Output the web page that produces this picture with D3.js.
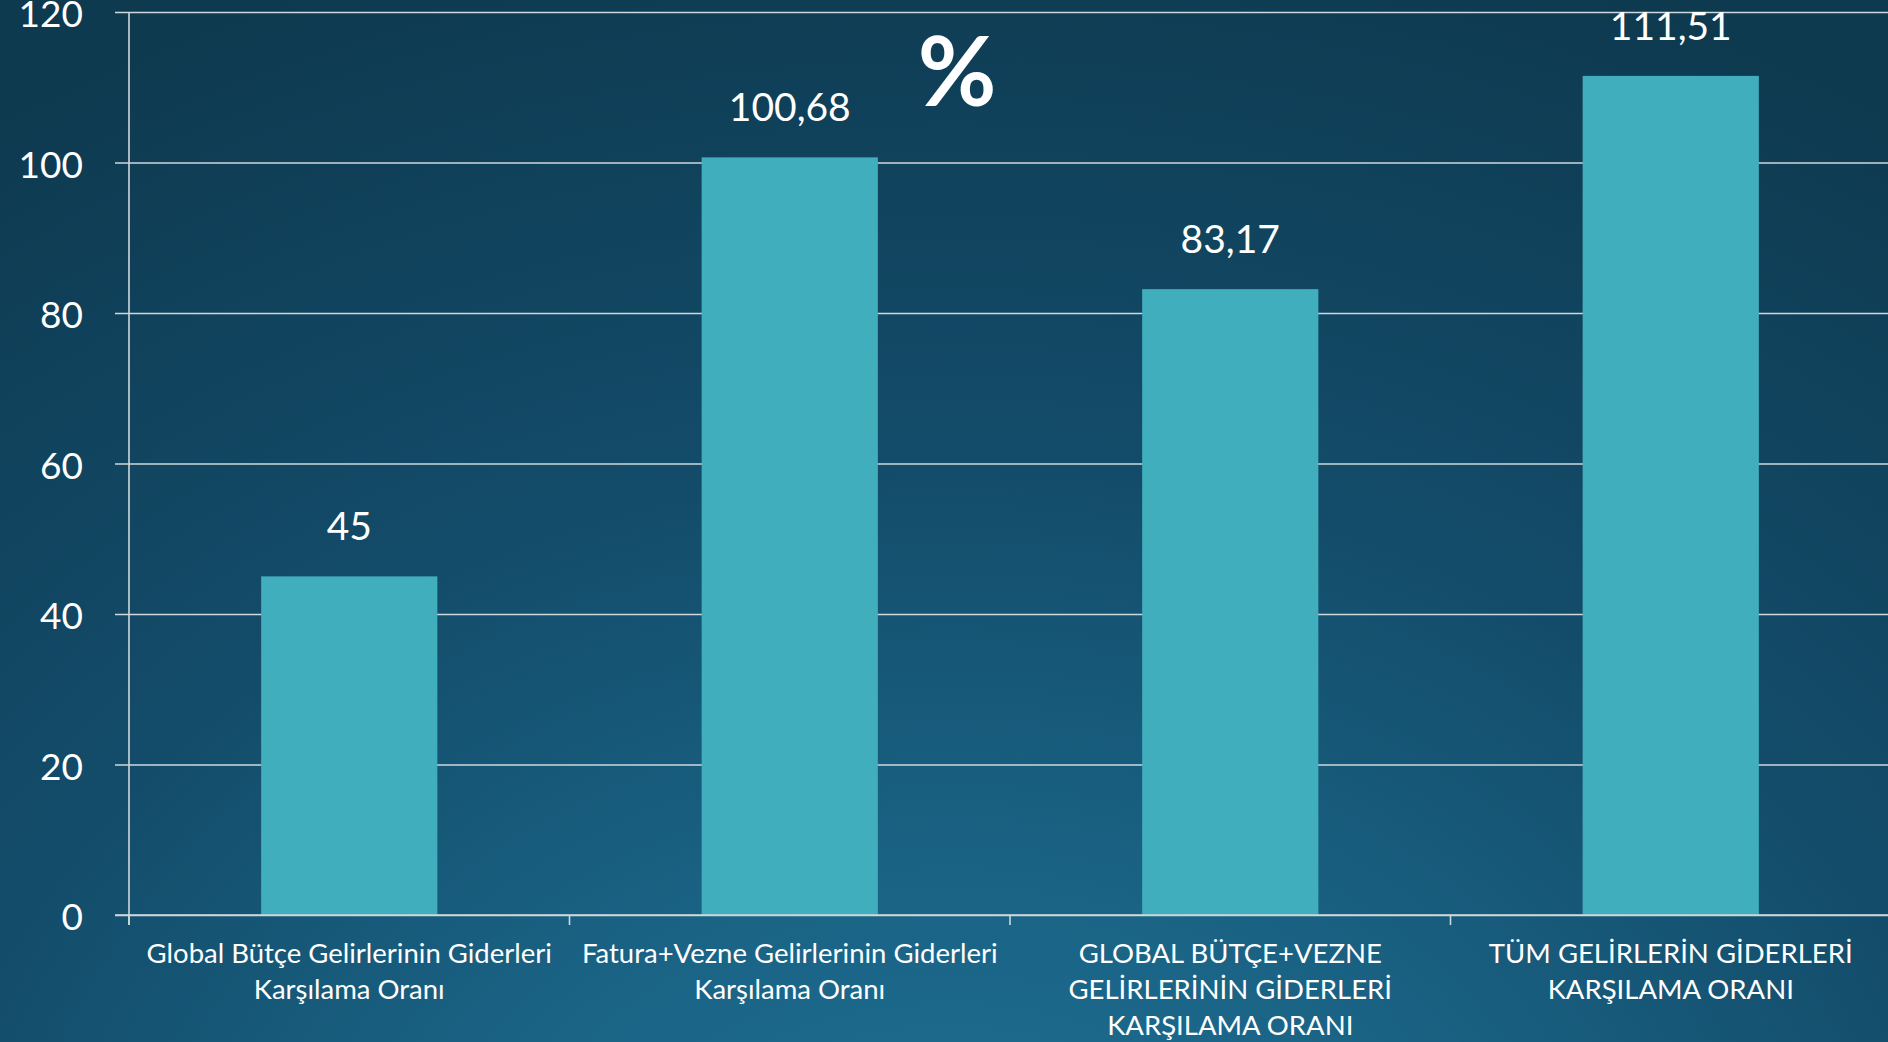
<!DOCTYPE html>
<html>
<head>
<meta charset="utf-8">
<script src="https://cdn.jsdelivr.net/npm/d3@7"></script>
<style>
  html, body { margin: 0; padding: 0; overflow: hidden; background: #0f3d55; }
  svg { display: block; }
  text { font-family: Lato, "Open Sans", sans-serif; fill: #ffffff; }
</style>
</head>
<body>
<svg id="chart"></svg>
<script>
// --- DATA ---
const categories = [
    ["Global Bütçe Gelirlerinin Giderleri", "Karşılama Oranı"],
    ["Fatura+Vezne Gelirlerinin Giderleri", "Karşılama Oranı"],
    ["GLOBAL BÜTÇE+VEZNE", "GELİRLERİNİN GİDERLERİ", "KARŞILAMA ORANI"],
    ["TÜM GELİRLERİN GİDERLERİ", "KARŞILAMA ORANI"]
];
const values = [45, 100.68, 83.17, 111.51];
const valueLabels = ["45", "100,68", "83,17", "111,51"];
const yTicks = [0, 20, 40, 60, 80, 100, 120];

// --- SETUP ---
const W = 1888, H = 1042;
const svg = d3.select("#chart").attr("width", W).attr("height", H);

// background gradient
const defs = svg.append("defs");
const grad = defs.append("radialGradient")
    .attr("id", "bg")
    .attr("gradientUnits", "userSpaceOnUse")
    .attr("cx", 950).attr("cy", 1300).attr("r", 1400)
    .attr("gradientTransform", "translate(950,1300) scale(1.25,1) translate(-950,-1300)");
grad.append("stop").attr("offset", "0").attr("stop-color", "#1f7396");
grad.append("stop").attr("offset", "0.3").attr("stop-color", "#1a6385");
grad.append("stop").attr("offset", "0.6").attr("stop-color", "#134c6a");
grad.append("stop").attr("offset", "1").attr("stop-color", "#0e3a50");
svg.append("rect").attr("width", W).attr("height", H).attr("fill", "url(#bg)");

const x0 = 129, x1 = 1891, yTop = 12, yBase = 915;

const x = d3.scaleBand()
    .domain(d3.range(categories.length))
    .range([x0, x1])
    .paddingInner(0.6)
    .paddingOuter(0.3);

const y = d3.scaleLinear().domain([0, 120]).range([yBase, yTop]);

// gridlines + y labels
const yAxis = d3.axisLeft(y)
    .tickValues(yTicks)
    .tickSize(-(W - x0 + 20))
    .tickPadding(32)
    .tickFormat(d3.format("d"));

const yg = svg.append("g")
    .attr("transform", `translate(${x0 - 14},0)`)
    .call(yAxis);
yg.select(".domain").remove();
yg.selectAll(".tick line").attr("stroke", "#cfd8dc").attr("stroke-width", 1.6);
yg.selectAll(".tick text")
    .attr("font-size", 37)
    .attr("fill", "#ffffff")
    .attr("dy", "0.4em");

// y axis line
svg.append("line")
    .attr("x1", x0).attr("x2", x0)
    .attr("y1", yTop).attr("y2", yBase + 10)
    .attr("stroke", "#cfd8dc").attr("stroke-width", 1.6);

// bars
svg.append("g").selectAll("rect")
    .data(values)
    .join("rect")
    .attr("x", (d, i) => x(i))
    .attr("width", x.bandwidth())
    .attr("y", d => y(d))
    .attr("height", d => yBase - y(d))
    .attr("fill", "#41aebe");

// baseline on top of bars
svg.append("line")
    .attr("x1", x0 - 14).attr("x2", W)
    .attr("y1", yBase).attr("y2", yBase)
    .attr("stroke", "#cfd8dc").attr("stroke-width", 1.6);

// category tick marks at band boundaries
svg.append("g").selectAll("line")
    .data(d3.range(categories.length))
    .join("line")
    .attr("x1", i => x(i) - x.step() * 0.3)
    .attr("x2", i => x(i) - x.step() * 0.3)
    .attr("y1", yBase).attr("y2", yBase + 10)
    .attr("stroke", "#cfd8dc").attr("stroke-width", 1.6);

// value labels
svg.append("g").selectAll("text")
    .data(values)
    .join("text")
    .attr("x", (d, i) => x(i) + x.bandwidth() / 2)
    .attr("y", d => y(d) - 36)
    .attr("text-anchor", "middle")
    .attr("font-size", 39)
    .text((d, i) => valueLabels[i]);

// category labels
const catG = svg.append("g").selectAll("text")
    .data(categories)
    .join("text")
    .attr("text-anchor", "middle")
    .attr("font-size", 27.5)
    .attr("transform", (d, i) => `translate(${x(i) + x.bandwidth() / 2},${yBase + 48})`);
catG.selectAll("tspan")
    .data(d => d)
    .join("tspan")
    .attr("x", 0)
    .attr("y", (d, j) => j * 36)
    .text(d => d);

// percent title
svg.append("text")
    .attr("x", 957)
    .attr("y", 106)
    .attr("text-anchor", "middle")
    .attr("font-size", 96)
    .attr("font-weight", "bold")
    .text("%");
</script>
</body>
</html>
